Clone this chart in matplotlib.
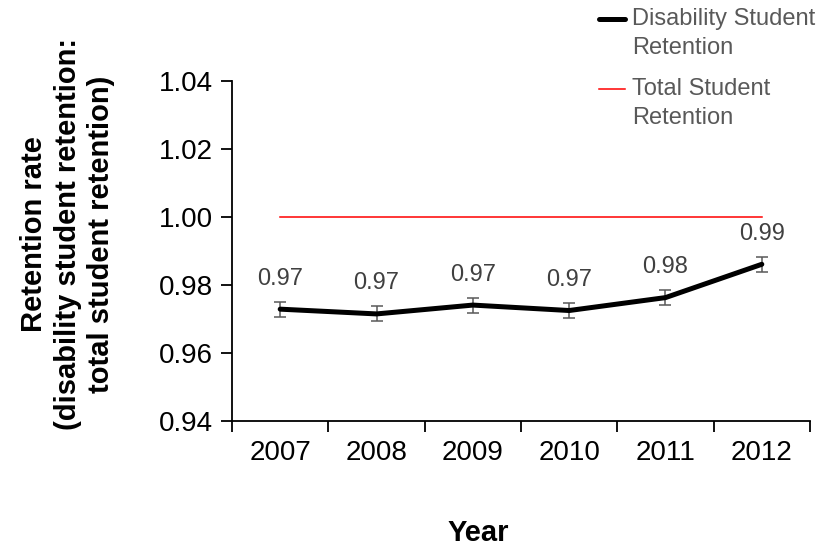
import matplotlib
matplotlib.use('Agg')
import matplotlib.pyplot as plt
import numpy as np
from matplotlib.legend_handler import HandlerLine2D

plt.rcParams['font.family'] = ['Liberation Sans', 'DejaVu Sans']

years = ['2007', '2008', '2009', '2010', '2011', '2012']
disability_ratio = [0.9729, 0.9715, 0.9741, 0.9725, 0.9763, 0.9861]
ratio_err = [0.0022, 0.0022, 0.0022, 0.0022, 0.0023, 0.0022]
total_ratio = [1.0, 1.0, 1.0, 1.0, 1.0, 1.0]


class TopLineHandler(HandlerLine2D):
    # put the legend line next to the first row of a two-row label
    def create_artists(self, legend, orig_handle, xdescent, ydescent,
                       width, height, fontsize, trans):
        return super().create_artists(legend, orig_handle, xdescent,
                                      ydescent - 1.25 * fontsize, width,
                                      height, fontsize, trans)


fig = plt.figure(figsize=(8.31, 5.47), dpi=100)
ax = fig.add_axes([0.2792, 0.2303, 0.6955, 0.6216])

x = np.arange(len(years))
ax.errorbar(x, disability_ratio, yerr=ratio_err, fmt='none',
            ecolor='#595959', elinewidth=1.1, capsize=4.3, capthick=1.1,
            zorder=2)
dis_line, = ax.plot(x, disability_ratio, color='black', lw=3.6,
                    solid_capstyle='round', zorder=3,
                    label='Disability Student\nRetention')
tot_line, = ax.plot(x, total_ratio, color='#ff0000', lw=1.1, zorder=3,
                    label='Total Student\nRetention')

for xi, v in zip(x, disability_ratio):
    ax.annotate('%.2f' % v, (xi, v), xytext=(0, 22), textcoords='offset points',
                ha='center', va='center', fontsize=17, color='#404040')

ax.set_xlim(-0.5, len(years) - 0.5)
ax.set_ylim(0.94, 1.04)
yt = np.arange(0.94, 1.0401, 0.02)
ax.set_yticks(yt)
ax.set_yticklabels(['%.2f' % t for t in yt])
ax.set_xticks(x)
ax.set_xticklabels(years)
ax.set_xticks(np.arange(-0.5, len(years)), minor=True)
ax.tick_params(axis='x', which='major', length=0, pad=14, labelsize=20)
ax.tick_params(axis='x', which='minor', length=8, width=1.3, direction='out')
ax.tick_params(axis='y', length=8, width=1.3, direction='out', pad=6,
               labelsize=20)

for side in ['top', 'right']:
    ax.spines[side].set_visible(False)
for side in ['left', 'bottom']:
    ax.spines[side].set_linewidth(1.3)

ax.set_ylabel('Retention rate\n(disability student retention:\ntotal student retention)',
              fontsize=21, fontweight='bold', linespacing=1.25, va='center')
ax.yaxis.set_label_coords(-0.284, 0.55)
ax.set_xlabel('Year', fontsize=21, fontweight='bold', va='center')
ax.xaxis.set_label_coords(0.426, -0.328)

leg = fig.legend(handles=[dis_line, tot_line], loc='upper left',
                 bbox_to_anchor=(0.718, 0.99), frameon=False, fontsize=17,
                 handlelength=1.1, handletextpad=0.3, labelspacing=0.8,
                 borderaxespad=0, borderpad=0.1,
                 handler_map={dis_line: TopLineHandler(),
                              tot_line: TopLineHandler()})
for t in leg.get_texts():
    t.set_color('#595959')
    t.set_linespacing(1.42)

fig.savefig('out.png', dpi=100)
